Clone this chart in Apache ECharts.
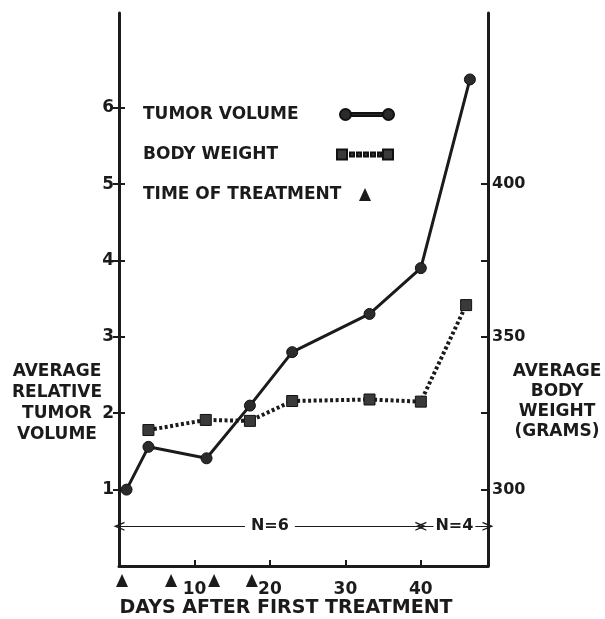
<!DOCTYPE html>
<html>
<head>
<meta charset="utf-8">
<script src="https://cdn.jsdelivr.net/npm/echarts@6/dist/echarts.min.js"></script>
<style>
  html, body { margin: 0; padding: 0; background: #fff; }
  #chart { width: 605px; height: 619px; }
</style>
</head>
<body>
<div id="chart"></div>
<script>
// tumor volume (relative), days after first treatment
const tumorDays = [1, 3.9, 11.6, 17.35, 22.95, 33.2, 40, 46.5];
const tumorVolume = [1.0, 1.56, 1.41, 2.1, 2.8, 3.3, 3.9, 6.37];
// body weight (grams)
const weightDays = [3.9, 11.5, 17.35, 22.95, 33.2, 40, 46];
const bodyWeight = [319.5, 322.8, 322.5, 329.0, 329.5, 328.8, 360.4];
// treatment times
const treatmentDays = [0.4, 6.9, 12.6, 17.6];
// ticks
const xTicks = [10, 20, 30, 40];
const leftTicks = [1, 2, 3, 4, 5, 6];
const rightLabels = [300, 350, 400];
const rightTicks = [300, 325, 350, 375, 400];
// group sizes
const groupBounds = [0, 40, 48.9];
const groupLabels = ["N=6", "N=4"];

const ink = "#1b1b1b";
const font = "DejaVu Sans";
const xMax = 48.9;
const leftMax = 7.24;
const rightMin = 275;
const rightMax = 275 + leftMax * 25;

const chart = echarts.init(document.getElementById("chart"));

const circleIcon =
  "path://M0,5.5 A5.5,5.5 0 1,0 11,5.5 A5.5,5.5 0 1,0 0,5.5 Z M11,4 L43,4 L43,7 L11,7 Z M43,5.5 A5.5,5.5 0 1,0 54,5.5 A5.5,5.5 0 1,0 43,5.5 Z";
const squareIcon =
  "path://M0,0 L10,0 L10,10 L0,10 Z M13,3 L17,3 L17,7 L13,7 Z M20,3 L24,3 L24,7 L20,7 Z M27,3 L31,3 L31,7 L27,7 Z M34,3 L38,3 L38,7 L34,7 Z M41,3 L44,3 L44,7 L41,7 Z M46,0 L56,0 L56,10 L46,10 Z";
const chevron = "path://M0,10 L5,0 L10,10 L8.5,10 L5,3.5 L1.5,10 Z";

// legend text padded to a fixed width so the keys line up on the right
function legendText(w) {
  return {
    color: ink, fontFamily: font, fontSize: 17, fontWeight: "bold",
    rich: { t: { width: w, align: "left", color: ink, fontFamily: font, fontSize: 17, fontWeight: "bold" } },
  };
}

const options = {
  backgroundColor: "#fff",
  animation: false,
  grid: { left: 119, right: 117, top: 13, bottom: 53 },
  legend: [
    {
      left: 143, top: 106, align: "right", padding: 0,
      itemWidth: 54, itemHeight: 11,
      formatter: "{t|{name}}",
      textStyle: legendText(192),
      data: [{ name: "TUMOR VOLUME", icon: circleIcon }],
      selectedMode: false,
    },
    {
      left: 143, top: 146, align: "right", padding: 0,
      itemWidth: 56, itemHeight: 10,
      formatter: "{t|{name}}",
      textStyle: legendText(189),
      data: [{ name: "BODY WEIGHT", icon: squareIcon }],
      selectedMode: false,
    },
    {
      left: 143, top: 186, align: "right", padding: 0,
      itemWidth: 12, itemHeight: 13,
      formatter: "{t|{name}}",
      textStyle: legendText(211),
      data: [{ name: "TIME OF TREATMENT", icon: "triangle" }],
      selectedMode: false,
    },
  ],
  xAxis: {
    type: "value",
    min: 0,
    max: xMax,
    interval: 10,
    axisLine: { lineStyle: { color: ink, width: 3 } },
    axisTick: { inside: true, length: 6, customValues: xTicks, lineStyle: { color: ink, width: 2 } },
    axisLabel: { customValues: xTicks, margin: 15, color: ink, fontFamily: font, fontSize: 17, fontWeight: "bold" },
    splitLine: { show: false },
  },
  yAxis: [
    {
      type: "value",
      position: "left",
      min: 0,
      max: leftMax,
      interval: 1,
      axisLine: { show: true, lineStyle: { color: ink, width: 3 } },
      axisTick: { show: true, inside: false, length: 6, customValues: leftTicks, lineStyle: { color: ink, width: 2 } },
      axisLabel: { customValues: leftTicks, margin: 5, color: ink, fontFamily: font, fontSize: 17, fontWeight: "bold" },
      splitLine: { show: false },
    },
    {
      type: "value",
      position: "right",
      min: rightMin,
      max: rightMax,
      interval: 25,
      axisLine: { show: true, lineStyle: { color: ink, width: 3 } },
      axisTick: { show: true, inside: true, length: 7, customValues: rightTicks, lineStyle: { color: ink, width: 2 } },
      axisLabel: { customValues: rightLabels, margin: 4, color: ink, fontFamily: font, fontSize: 16, fontWeight: "bold" },
      splitLine: { show: false },
    },
    {
      // inner half of the crossing ticks on the left axis
      type: "value",
      position: "left",
      min: 0,
      max: leftMax,
      interval: 1,
      axisLine: { show: false },
      axisTick: { show: true, inside: true, length: 6, customValues: leftTicks, lineStyle: { color: ink, width: 2 } },
      axisLabel: { show: false },
      splitLine: { show: false },
    },
  ],
  graphic: [
    {
      type: "text",
      x: 57, y: 361,
      style: {
        text: "AVERAGE\nRELATIVE\nTUMOR\nVOLUME",
        fill: ink, font: "bold 17px " + font, align: "center", lineHeight: 21,
      },
    },
    {
      type: "text",
      x: 557, y: 362,
      style: {
        text: "AVERAGE\nBODY\nWEIGHT\n(GRAMS)",
        fill: ink, font: "bold 17px " + font, align: "center", lineHeight: 20,
      },
    },
    {
      type: "text",
      x: 286, y: 599,
      style: { text: "DAYS AFTER FIRST TREATMENT", fill: ink, font: "bold 19px " + font, align: "center" },
    },
  ],
  series: [
    {
      name: "TUMOR VOLUME",
      type: "line",
      yAxisIndex: 0,
      data: tumorDays.map((d, i) => [d, tumorVolume[i]]),
      symbol: "circle",
      symbolSize: 11,
      lineStyle: { color: ink, width: 3 },
      itemStyle: { color: "#2b2b2b", borderColor: "#111", borderWidth: 1 },
      z: 3,
    },
    {
      name: "BODY WEIGHT",
      type: "line",
      yAxisIndex: 1,
      data: weightDays.map((d, i) => [d, bodyWeight[i]]),
      symbol: "rect",
      symbolSize: 11,
      lineStyle: { color: ink, width: 4, type: [3, 2.5] },
      itemStyle: { color: "#3a3a3a", borderColor: "#111", borderWidth: 1 },
      z: 3,
    },
    {
      name: "TIME OF TREATMENT",
      type: "scatter",
      yAxisIndex: 0,
      clip: false,
      data: treatmentDays.map((d) => [d, -0.19]),
      symbol: "triangle",
      symbolSize: [12, 13],
      itemStyle: { color: ink, opacity: 1 },
    },
    {
      name: "annotations",
      type: "line",
      yAxisIndex: 0,
      data: [],
      markLine: {
        silent: true,
        animation: false,
        symbol: ["none", "none"],
        label: { show: false },
        data: [
          [
            { coord: [groupBounds[1], -0.07], lineStyle: { color: ink, width: 1.5, type: "solid" } },
            { coord: [groupBounds[1], 4.42] },
          ],
          [
            {
              coord: [groupBounds[0], 0.52],
              symbol: chevron,
              symbolSize: [9, 11],
              lineStyle: { color: ink, width: 1.2, type: "solid" },
              label: {
                show: true, position: "middle", formatter: groupLabels[0],
                color: ink, fontFamily: font, fontSize: 16, fontWeight: "bold",
                backgroundColor: "#fff", padding: [0, 6], distance: -8,
              },
            },
            { coord: [groupBounds[1], 0.52], symbol: chevron, symbolSize: [9, 11] },
          ],
          [
            {
              coord: [groupBounds[1], 0.52],
              symbol: chevron,
              symbolSize: [9, 11],
              lineStyle: { color: ink, width: 1.2, type: "solid" },
              label: {
                show: true, position: "middle", formatter: groupLabels[1],
                color: ink, fontFamily: font, fontSize: 16, fontWeight: "bold",
                backgroundColor: "#fff", padding: [0, 2], distance: -8,
              },
            },
            { coord: [groupBounds[2], 0.52], symbol: chevron, symbolSize: [9, 11] },
          ],
        ],
      },
    },
  ],
};

chart.setOption(options);
window.addEventListener("resize", () => chart.resize());
</script>
</body>
</html>
